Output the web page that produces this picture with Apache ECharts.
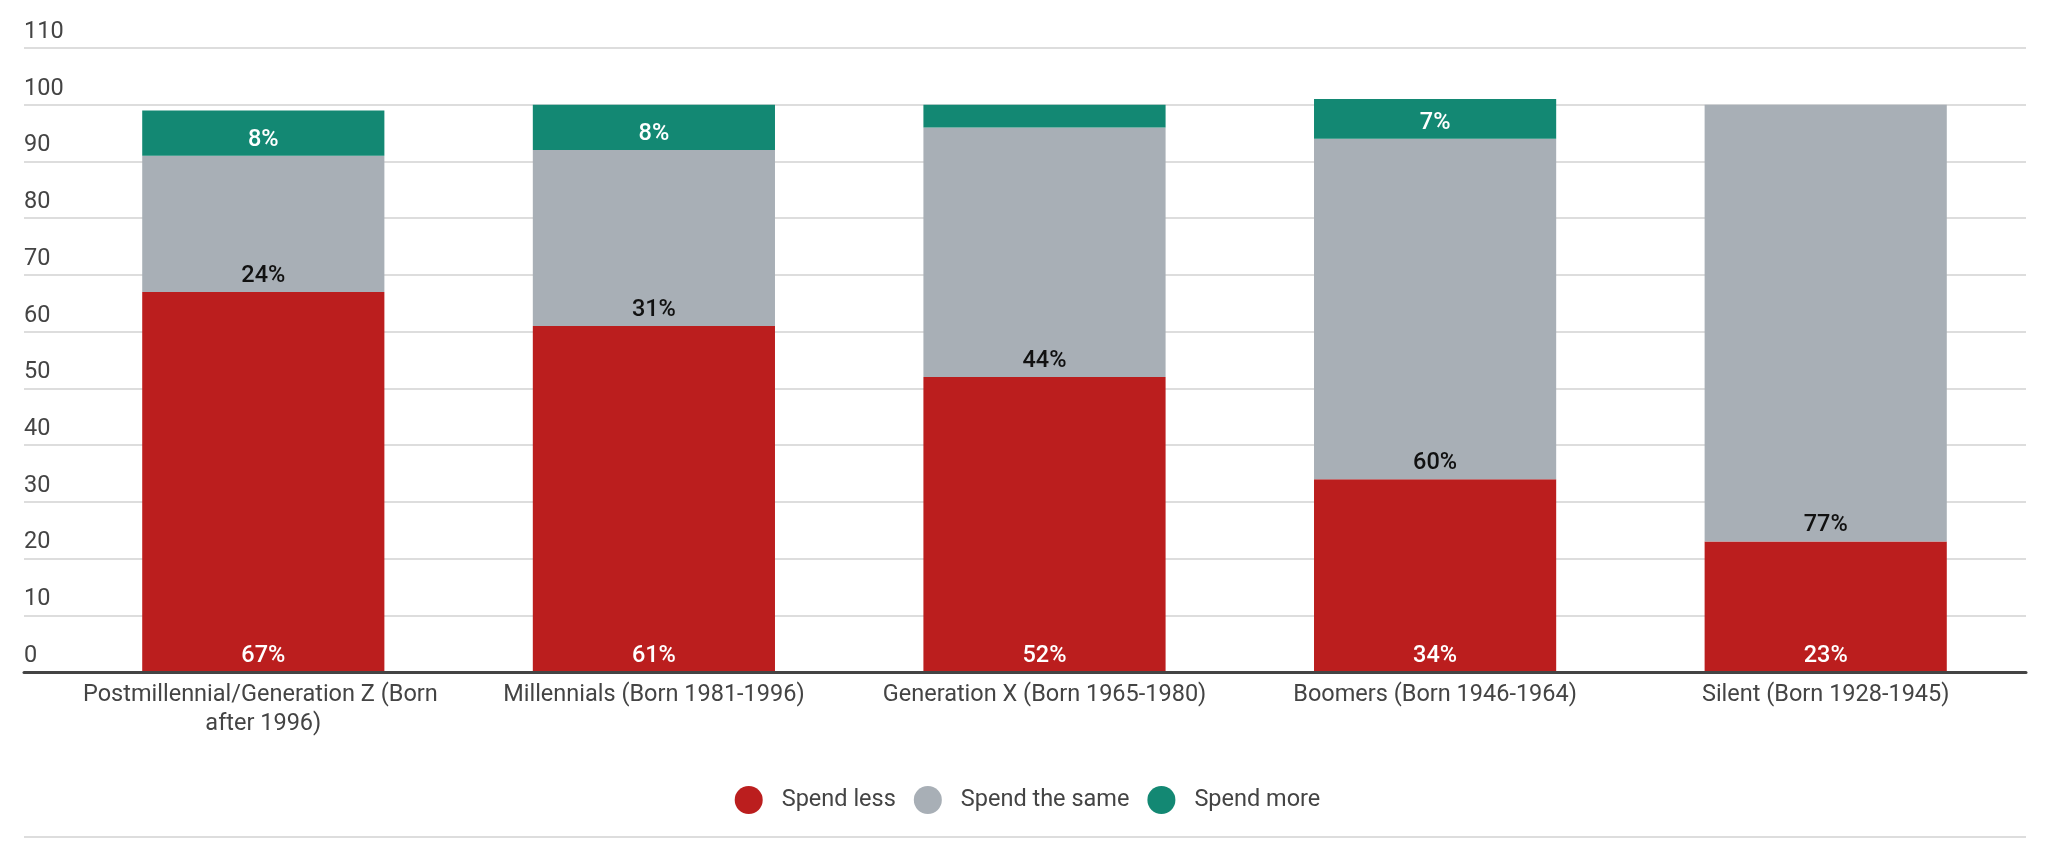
<!DOCTYPE html>
<html>
<head>
<meta charset="utf-8">
<script src="https://cdn.jsdelivr.net/npm/echarts@6/dist/echarts.min.js"></script>
<style>
html,body{margin:0;padding:0;background:#fff;}
#chart{width:2055px;height:855px;}
</style>
</head>
<body>
<div id="chart"></div>
<script>
var categories = [
  'Postmillennial/Generation Z (Born after 1996)',
  'Millennials (Born 1981-1996)',
  'Generation X (Born 1965-1980)',
  'Boomers (Born 1946-1964)',
  'Silent (Born 1928-1945)'
];
var spendLess = [67, 61, 52, 34, 23];
var spendSame = [24, 31, 44, 60, 77];
var spendMore = [8, 8, 4, 7, 0];
var seriesNames = ['Spend less', 'Spend the same', 'Spend more'];
var colors = ['#BB1E1E', '#A8AFB6', '#138873'];
var labelColors = ['#ffffff', '#111111', '#ffffff'];

var chart = echarts.init(document.getElementById('chart'));
var font = 'Roboto, "Noto Sans", sans-serif';

function mkSeries(name, data, idx) {
  return {
    name: name,
    type: 'bar',
    stack: 'total',
    xAxisIndex: 1,
    yAxisIndex: 1,
    data: data,
    barCategoryGap: '38%',
    itemStyle: { color: colors[idx] },
    label: {
      show: true,
      position: 'insideBottom',
      distance: 4,
      color: labelColors[idx],
      fontFamily: font,
      fontSize: 23.5,
      fontWeight: 500,
      formatter: function (p) { return p.value >= 5 ? p.value + '%' : ''; }
    }
  };
}

var ellipse = 'path://M50,0A50,50,0,1,1,50,100A50,50,0,1,1,50,0Z';

chart.setOption({
  animation: false,
  color: colors,
  textStyle: { fontFamily: font },
  grid: [
    { left: 24, right: 29, top: 48, bottom: 183 },
    { left: 68, right: 34, top: 48, bottom: 183 }
  ],
  legend: {
    data: seriesNames,
    left: 'center',
    top: 781,
    icon: ellipse,
    itemWidth: 28,
    itemHeight: 28,
    itemGap: 18,
    textStyle: { fontFamily: font, fontSize: 23.5, color: '#444', padding: [0, 0, 0, 14] }
  },
  xAxis: [
    {
      type: 'value', gridIndex: 0, min: 0, max: 1, z: 10,
      axisLabel: { show: false }, axisTick: { show: false }, splitLine: { show: false },
      axisLine: { show: true, lineStyle: { color: '#444', width: 3 } }
    },
    {
      type: 'category', gridIndex: 1, data: categories,
      axisLine: { show: false }, axisTick: { show: false },
      axisLabel: {
        color: '#444', fontFamily: font, fontSize: 23.5, lineHeight: 29, margin: 9,
        width: 385, overflow: 'break', interval: 0
      }
    }
  ],
  yAxis: [
    {
      type: 'value', gridIndex: 0, min: 0, max: 110, interval: 10,
      axisLine: { show: false }, axisTick: { show: false },
      splitLine: { show: true, lineStyle: { color: '#DDDDDD', width: 2 } },
      axisLabel: {
        inside: true, margin: 0, align: 'left', verticalAlign: 'bottom',
        padding: [0, 0, 4, 0], color: '#444', fontFamily: font, fontSize: 23.5
      }
    },
    { type: 'value', gridIndex: 1, min: 0, max: 110, interval: 10, show: false }
  ],
  graphic: [
    { type: 'line', shape: { x1: 24, y1: 837, x2: 2026, y2: 837 }, style: { stroke: '#DDDDDD', lineWidth: 2 } }
  ],
  series: [
    mkSeries(seriesNames[0], spendLess, 0),
    mkSeries(seriesNames[1], spendSame, 1),
    mkSeries(seriesNames[2], spendMore, 2)
  ]
});
</script>
</body>
</html>
